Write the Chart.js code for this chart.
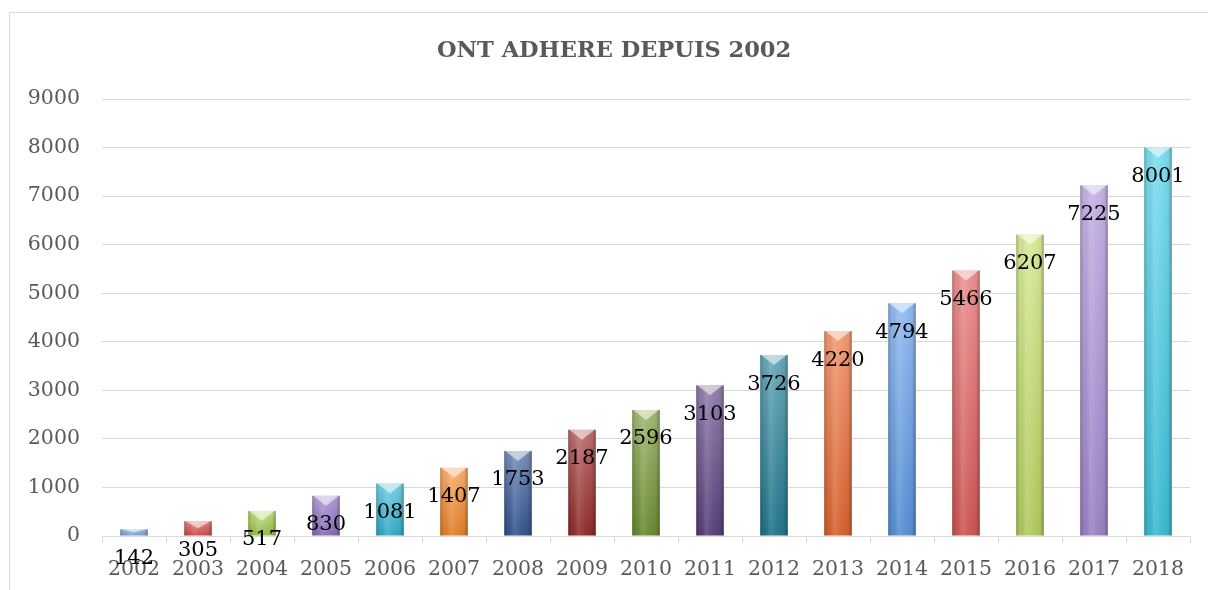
<!DOCTYPE html>
<html>
<head>
<meta charset="utf-8">
<script src="https://cdn.jsdelivr.net/npm/chart.js@4.4.0/dist/chart.umd.min.js"></script>
<style>
  html, body { margin: 0; padding: 0; background: #fff; }
  #wrap { position: relative; width: 1208px; height: 590px; overflow: hidden; }
  #frame { position: absolute; left: 9px; top: 12px; width: 1220px; height: 620px;
           border: 1px solid #d9d9d9; pointer-events: none; }
</style>
</head>
<body>
<div id="wrap">
  <canvas id="chart" width="1208" height="590"></canvas>
  <div id="frame"></div>
</div>
<script>
// Chart data
const years = ['2002', '2003', '2004', '2005', '2006', '2007', '2008', '2009', '2010',
               '2011', '2012', '2013', '2014', '2015', '2016', '2017', '2018'];
const members = [142, 305, 517, 830, 1081, 1407, 1753, 2187, 2596,
                 3103, 3726, 4220, 4794, 5466, 6207, 7225, 8001];
const yTicks = [0, 1000, 2000, 3000, 4000, 5000, 6000, 7000, 8000, 9000];

// One colour per bar (base tone, gradient is built from it)
const barColors = ['#7FA8E0', '#DA4E4C', '#A2CE48', '#9272C8', '#33B8D6', '#F78A2A',
                   '#34599A', '#9C2C2C', '#729632', '#5E4284', '#217D97', '#EC6A32',
                   '#5E9BE8', '#E25C5C', '#C2DE66', '#AA8DD8', '#40CCE6'];

const FONT = '"DejaVu Serif", "Liberation Serif", serif';

// mix a hex colour with another hex colour
function mix(hex, other, amount) {
  const a = parseInt(hex.slice(1), 16), b = parseInt(other.slice(1), 16);
  const r = Math.round(((a >> 16) & 255) * (1 - amount) + ((b >> 16) & 255) * amount);
  const g = Math.round(((a >> 8) & 255) * (1 - amount) + ((b >> 8) & 255) * amount);
  const bl = Math.round((a & 255) * (1 - amount) + (b & 255) * amount);
  return `rgb(${r}, ${g}, ${bl})`;
}

// Vertical gradient per bar: light at the top, darker at the base
function barFill(context) {
  const chart = context.chart;
  const base = barColors[context.dataIndex];
  if (!chart.chartArea || !chart.scales.y) return base;
  const yScale = chart.scales.y;
  const top = yScale.getPixelForValue(members[context.dataIndex]);
  const bottom = yScale.getPixelForValue(0);
  const g = chart.ctx.createLinearGradient(0, top, 0, bottom);
  g.addColorStop(0, mix(base, '#ffffff', 0.32));
  g.addColorStop(1, mix(base, '#000000', 0.1));
  return g;
}

// Cylinder-like shading and top bevel over each bar
const barShading = {
  id: 'barShading',
  afterDatasetsDraw(chart) {
    const ctx = chart.ctx;
    chart.getDatasetMeta(0).data.forEach(bar => {
      const left = bar.x - bar.width / 2;
      const right = bar.x + bar.width / 2;
      const g = ctx.createLinearGradient(left, 0, right, 0);
      g.addColorStop(0, 'rgba(0,0,0,0.25)');
      g.addColorStop(0.12, 'rgba(0,0,0,0.03)');
      g.addColorStop(0.35, 'rgba(255,255,255,0.14)');
      g.addColorStop(0.65, 'rgba(255,255,255,0.03)');
      g.addColorStop(0.88, 'rgba(0,0,0,0.05)');
      g.addColorStop(1, 'rgba(0,0,0,0.3)');
      ctx.save();
      ctx.fillStyle = g;
      ctx.fillRect(left, bar.y, bar.width, bar.base - bar.y);
      // top bevel
      const h = Math.min(10, (bar.base - bar.y) / 2);
      ctx.beginPath();
      ctx.moveTo(left + 1, bar.y);
      ctx.lineTo(right - 1, bar.y);
      ctx.lineTo(bar.x, bar.y + h);
      ctx.closePath();
      ctx.fillStyle = 'rgba(255,255,255,0.55)';
      ctx.fill();
      ctx.restore();
    });
  }
};

// Value labels just below the top of each bar
const valueLabels = {
  id: 'valueLabels',
  afterDraw(chart) {
    const ctx = chart.ctx;
    ctx.save();
    ctx.font = '21px ' + FONT;
    ctx.fillStyle = '#000';
    ctx.textAlign = 'center';
    ctx.textBaseline = 'middle';
    chart.getDatasetMeta(0).data.forEach((bar, i) => {
      ctx.fillText(String(members[i]), bar.x, bar.y + 29);
    });
    ctx.restore();
  }
};

// nudge the title a bit to the right, like the original
const titleShift = {
  id: 'titleShift',
  afterLayout(chart) {
    if (chart.titleBlock) {
      chart.titleBlock.left += 14;
      chart.titleBlock.right += 14;
    }
  }
};

new Chart(document.getElementById('chart'), {
  type: 'bar',
  data: {
    labels: years,
    datasets: [{
      data: members,
      backgroundColor: barFill,
      borderWidth: 0,
      barPercentage: 0.43,
      categoryPercentage: 1
    }]
  },
  options: {
    responsive: false,
    animation: false,
    layout: { padding: { left: 10, right: 18, top: 0, bottom: 0 } },
    plugins: {
      legend: { display: false },
      tooltip: { enabled: false },
      title: {
        display: true,
        text: 'ONT ADHERE DEPUIS 2002',
        color: '#595959',
        font: { family: FONT, size: 22.5, weight: 'bold' },
        padding: { top: 38, bottom: 34 }
      }
    },
    scales: {
      x: {
        offset: true,
        grid: { display: true, drawOnChartArea: false, offset: true, tickLength: 7, color: '#d9d9d9' },
        border: { color: '#d9d9d9' },
        ticks: { color: '#595959', font: { family: FONT, size: 20.5 }, maxRotation: 0, autoSkip: false, padding: 14 },
        afterFit(scale) { scale.height = 54; }
      },
      y: {
        min: 0,
        max: 9000,
        afterBuildTicks(scale) { scale.ticks = yTicks.map(v => ({ value: v })); },
        grid: { color: '#d9d9d9', drawTicks: false },
        border: { display: false },
        ticks: {
          color: '#595959',
          font: { family: FONT, size: 20.5 },
          padding: 22,
          callback: v => String(v)
        },
        afterFit(scale) { scale.width = 92; }
      }
    }
  },
  plugins: [barShading, valueLabels, titleShift]
});
</script>
</body>
</html>
